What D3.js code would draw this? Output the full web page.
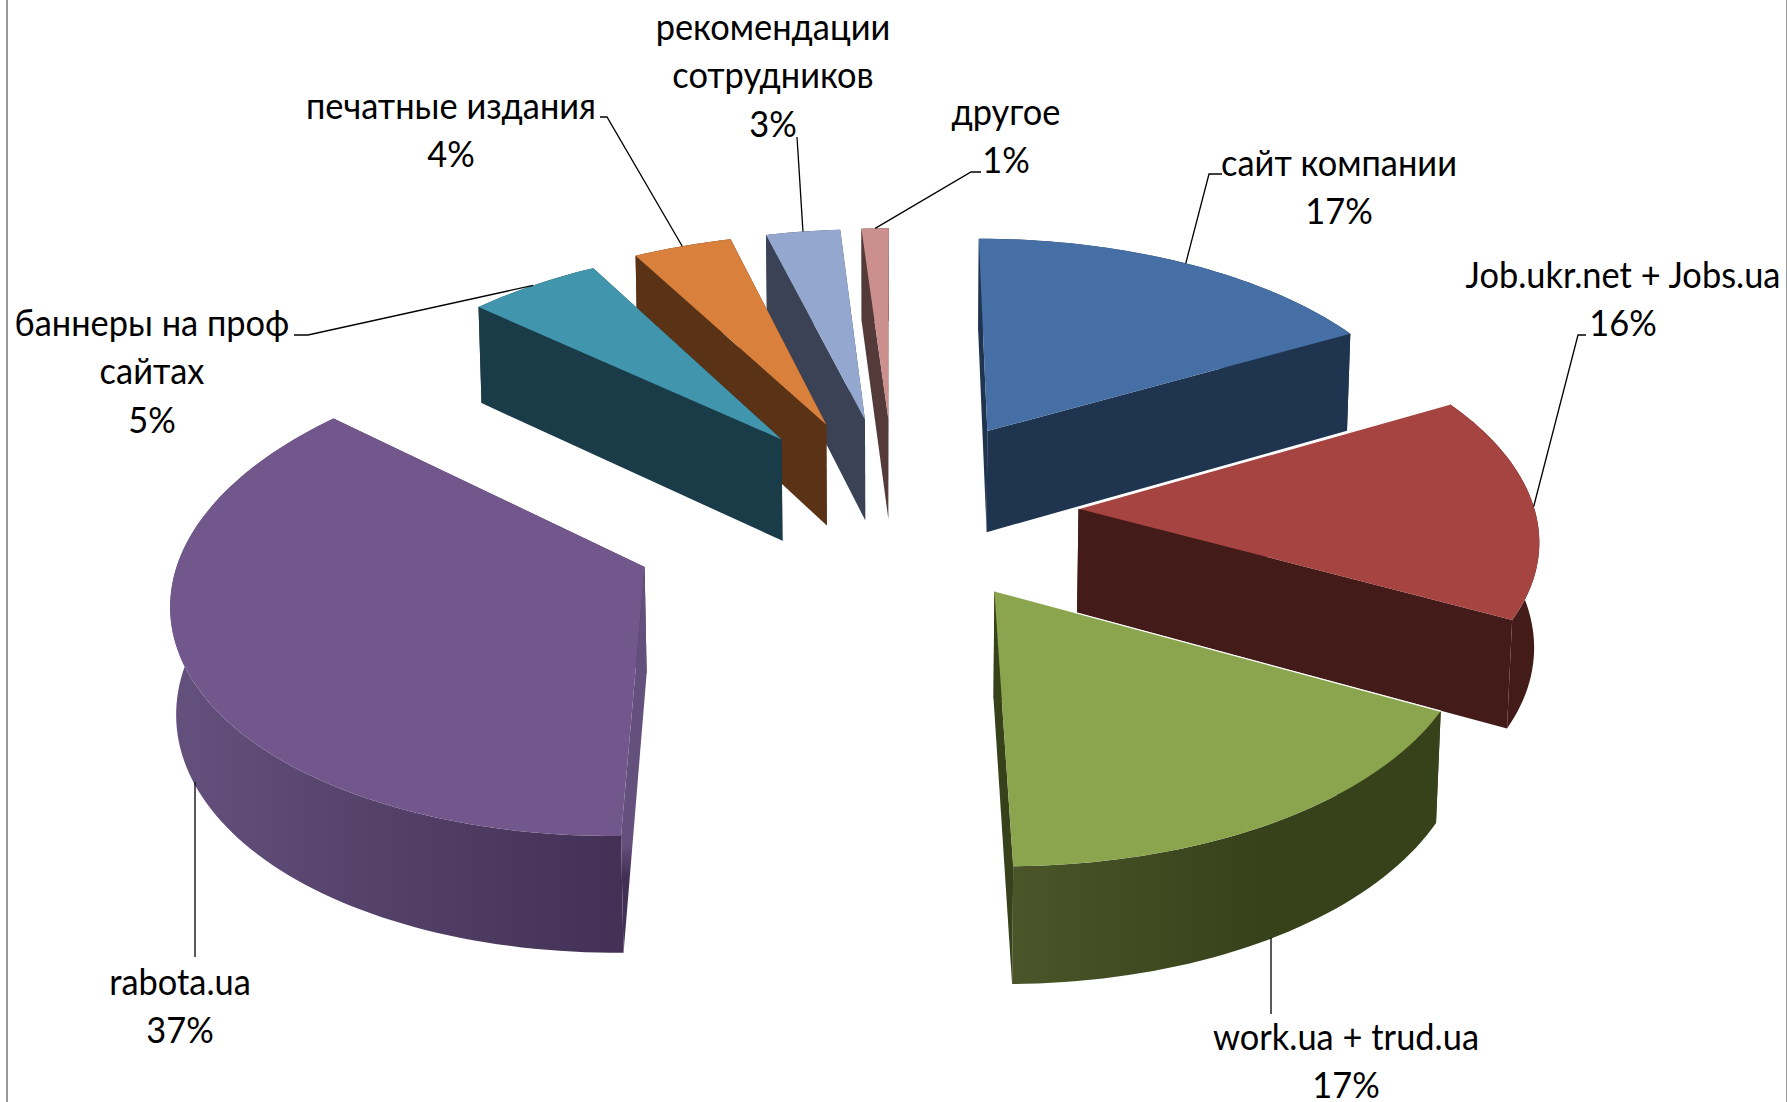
<!DOCTYPE html>
<html>
<head>
<meta charset="utf-8">
<script src="https://cdn.jsdelivr.net/npm/d3@7"></script>
<style>
  html, body { margin: 0; padding: 0; background: #fff; }
  svg { display: block; }
  text { font-family: Lato, "Noto Sans", sans-serif; fill: #000; }
</style>
</head>
<body>
<script>
// Data
const categories = ["сайт компании", "Job.ukr.net + Jobs.ua", "work.ua + trud.ua", "rabota.ua",
    "баннеры на проф сайтах", "печатные издания", "рекомендации сотрудников", "другое"];
const values = [17, 15.7, 17.1, 36.7, 5.4, 4, 3, 1.1];
const topColors = ["#4670a5", "#a64441", "#8aa54e", "#71578c", "#4196ae", "#d8803c", "#94a8cf", "#cb8f8e"];
const sideLight = ["#1f354f", "#431b18", "#4b5529", "#63507c", "#1a3c48", "#5a3317", "#3b4256", "#553a3a"];
const sideDark = ["#1f354f", "#431b18", "#37421b", "#433055", "#1a3c48", "#5a3317", "#3b4256", "#553a3a"];

// --- Setup ---
const width = 1787, height = 1102;
const svg = d3.select("body").append("svg")
    .attr("width", width)
    .attr("height", height);

// Projection of the pie: x to the right, y away from the viewer, z down
const cx = 894.6, cy = 509.5;
const radius = 456;
const explode = {
    "rabota.ua": 268,
    "Job.ukr.net + Jobs.ua": 184,
    "work.ua + trud.ua": 184,
    "сайт компании": 189,
    "баннеры на проф сайтах": 186
};
const explodeDefault = 190;
const tilt = 0.5, persp = 0.00023, depth = 105, depthPersp = 0.008;

function project(x, y, bottom) {
    const p = 1 / (1 + persp * y + (bottom ? depthPersp : 0));
    return [cx + x * p, cy - (tilt * y - (bottom ? depth : 0)) * p];
}

const colorScale = d3.scaleOrdinal().domain(categories).range(topColors);
const pie = d3.pie().sort(null).value(d => d.value);
const line = d3.line();

const slices = pie(categories.map((c, i) => ({ name: c, value: values[i], index: i }))).map(s => {
    const mid = (s.startAngle + s.endAngle) / 2;
    const e = explode[s.data.name] || explodeDefault;
    s.mid = mid;
    s.ox = Math.sin(mid) * e;
    s.oy = Math.cos(mid) * e;
    return s;
});

function rimPoint(s, a, bottom) {
    return project(s.ox + Math.sin(a) * radius, s.oy + Math.cos(a) * radius, bottom);
}
function rimPoints(s, bottom) {
    const n = Math.max(4, Math.ceil((s.endAngle - s.startAngle) * 40));
    return d3.range(n + 1).map(i => rimPoint(s, s.startAngle + (s.endAngle - s.startAngle) * i / n, bottom));
}

// Side gradients
const defs = svg.append("defs");
slices.forEach(s => {
    const i = s.data.index;
    const xs = rimPoints(s, true).map(d => d[0]);
    const g = defs.append("linearGradient")
        .attr("id", "rim" + i)
        .attr("gradientUnits", "userSpaceOnUse")
        .attr("x1", d3.min(xs)).attr("x2", s.data.name === "work.ua + trud.ua" ? d3.mean(xs) : d3.max(xs))
        .attr("y1", 0).attr("y2", 0);
    g.append("stop").attr("offset", 0).attr("stop-color", sideLight[i]);
    g.append("stop").attr("offset", 1).attr("stop-color", sideDark[i]);
});

// The inner cut of rabota.ua is lighter above and dark near the bottom
const purple = slices.find(s => s.data.name === "rabota.ua");
const cutGrad = defs.append("linearGradient")
    .attr("id", "cutPurple")
    .attr("gradientUnits", "userSpaceOnUse")
    .attr("x1", 0).attr("x2", 0)
    .attr("y1", project(purple.ox, purple.oy, false)[1])
    .attr("y2", rimPoint(purple, purple.startAngle, true)[1]);
cutGrad.append("stop").attr("offset", 0.72).attr("stop-color", sideLight[purple.data.index]);
cutGrad.append("stop").attr("offset", 0.8).attr("stop-color", sideDark[purple.data.index]);

// Frame lines left and right
svg.append("line")
    .attr("x1", 7).attr("x2", 7).attr("y1", 0).attr("y2", height)
    .attr("stroke", "#999").attr("stroke-width", 2);
svg.append("line")
    .attr("x1", 1786.5).attr("x2", 1786.5).attr("y1", 0).attr("y2", height)
    .attr("stroke", "#999").attr("stroke-width", 1);

// Slices, back to front
const litEdges = ["Job.ukr.net + Jobs.ua", "work.ua + trud.ua"];
const ordered = slices.slice().sort((a, b) => d3.descending(a.oy, b.oy));
const sliceGroups = svg.selectAll("g.slice").data(ordered).enter().append("g").attr("class", "slice");

sliceGroups.each(function (s) {
    const g = d3.select(this);
    const i = s.data.index;
    const apexTop = project(s.ox, s.oy, false);
    const apexBottom = project(s.ox, s.oy, true);
    const rimTop = rimPoints(s, false);
    const rimBottom = rimPoints(s, true);

    // outer wall
    g.append("path")
        .attr("d", line(rimTop.concat(rimBottom.slice().reverse())) + "Z")
        .attr("fill", `url(#rim${i})`);

    // the two cut faces, the one further back goes first
    const cuts = [
        { a: s.startAngle, top: rimTop[0], bottom: rimBottom[0], start: true },
        { a: s.endAngle, top: rimTop[rimTop.length - 1], bottom: rimBottom[rimBottom.length - 1], start: false }
    ].sort((p, q) => d3.descending(Math.cos(p.a), Math.cos(q.a)));
    cuts.forEach(c => {
        g.append("path")
            .attr("d", line([apexTop, c.top, c.bottom, apexBottom]) + "Z")
            .attr("fill", s.data.name === "rabota.ua" && c.start ? "url(#cutPurple)" : sideDark[i]);
    });

    // top face
    g.append("path")
        .attr("class", "top")
        .attr("d", line([apexTop].concat(rimTop)) + "Z")
        .attr("fill", colorScale(s.data.name));

    if (litEdges.includes(s.data.name)) {
        g.append("path")
            .attr("d", line([apexTop, rimTop[0]]))
            .attr("fill", "none")
            .attr("stroke", "#fff")
            .attr("stroke-width", 1.2);
    }
});

// Labels: lines of text, label centre, first baseline
const labelLines = {
    "сайт компании": ["сайт компании"],
    "Job.ukr.net + Jobs.ua": ["Job.ukr.net + Jobs.ua"],
    "work.ua + trud.ua": ["work.ua + trud.ua"],
    "rabota.ua": ["rabota.ua"],
    "баннеры на проф сайтах": ["баннеры на проф", "сайтах"],
    "печатные издания": ["печатные издания"],
    "рекомендации сотрудников": ["рекомендации", "сотрудников"],
    "другое": ["другое"]
};
const labelPos = {
    "сайт компании": [1339, 176],
    "Job.ukr.net + Jobs.ua": [1623, 288],
    "work.ua + trud.ua": [1346, 1050],
    "rabota.ua": [180, 995],
    "баннеры на проф сайтах": [152, 336],
    "печатные издания": [451, 119],
    "рекомендации сотрудников": [773, 40],
    "другое": [1006, 125]
};
// elbow points of the leader lines, the far end comes from the slice itself
const leaderElbows = {
    "сайт компании": [[1222, 174], [1209, 174]],
    "Job.ukr.net + Jobs.ua": [[1586, 335], [1578, 335]],
    "work.ua + trud.ua": [[1271, 1014]],
    "rabota.ua": [[195, 957]],
    "баннеры на проф сайтах": [[294, 335], [308, 335]],
    "печатные издания": [[600, 117], [607, 117]],
    "рекомендации сотрудников": [[797, 137]],
    "другое": [[981, 172], [971, 172]]
};
const lineGap = 48.3;
const fontSize = 37;
const squeeze = 0.93;

const labels = svg.selectAll("g.label").data(slices).enter().append("g").attr("class", "label");

labels.each(function (s) {
    const g = d3.select(this);
    const name = s.data.name;
    const pos = labelPos[name];
    const rows = labelLines[name].concat([Math.round(s.data.value) + "%"]);
    g.selectAll("text").data(rows).enter().append("text")
        .attr("x", pos[0])
        .attr("y", (d, i) => pos[1] + i * lineGap)
        .attr("text-anchor", "middle")
        .attr("font-size", fontSize)
        .text(d => d)
        .attr("lengthAdjust", "spacingAndGlyphs")
        .attr("textLength", function () { return this.getComputedTextLength() * squeeze; });

    // wall-facing slices get their leader on the lower rim
    const onWall = name === "work.ua + trud.ua" || name === "rabota.ua";
    const end = rimPoint(s, s.mid, onWall);
    const elbows = leaderElbows[name];
    if (onWall) end[0] = elbows[0][0];
    g.append("path")
        .attr("d", line(elbows.concat([end])))
        .attr("fill", "none")
        .attr("stroke", "#000")
        .attr("stroke-width", 1.3);
});
</script>
</body>
</html>
